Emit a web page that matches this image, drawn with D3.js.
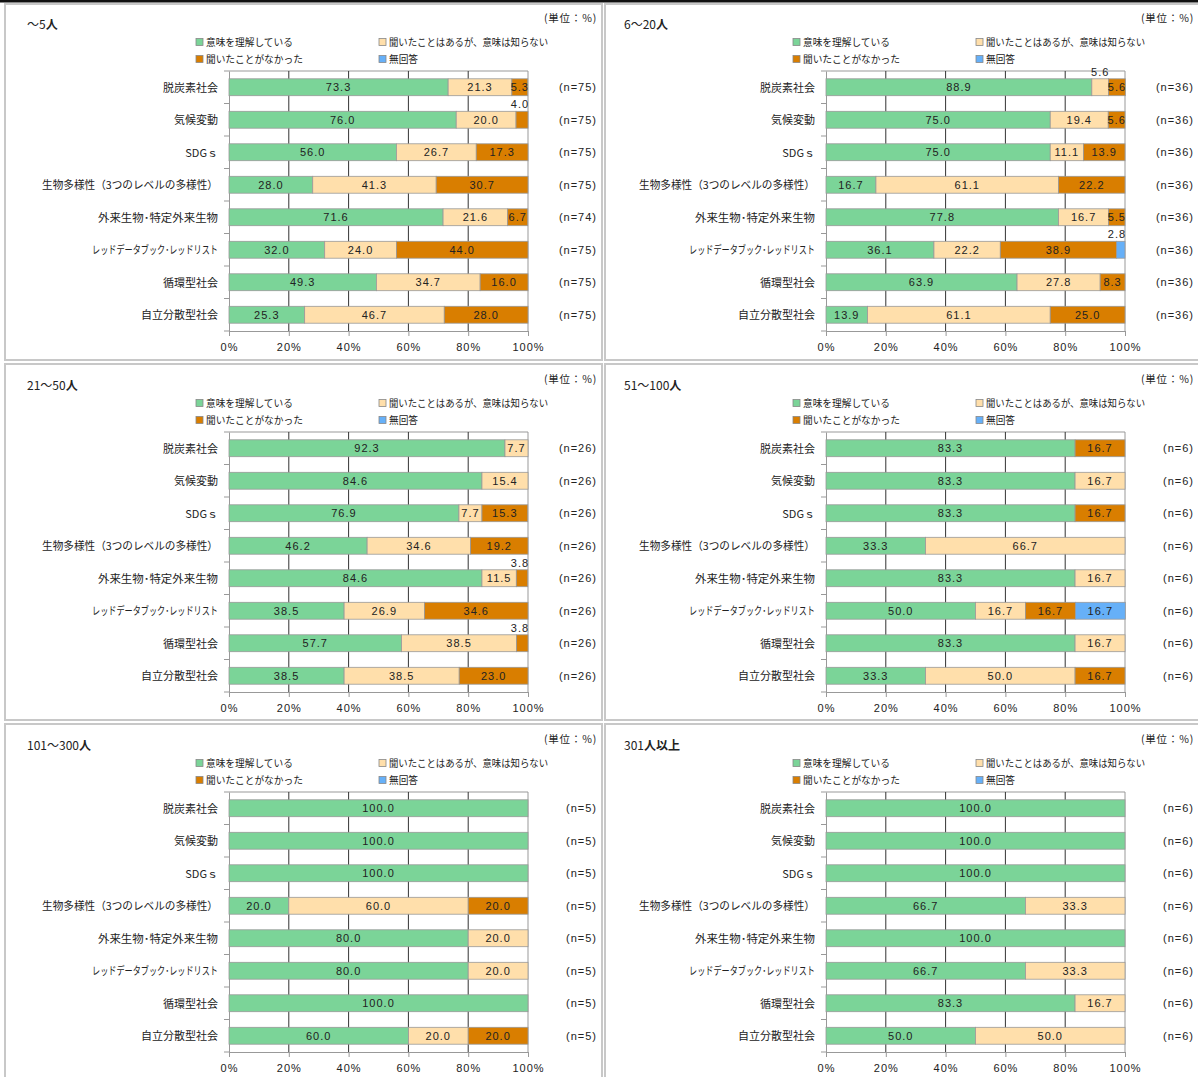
<!DOCTYPE html>
<html>
<head>
<meta charset="utf-8">
<script src="https://cdn.jsdelivr.net/npm/d3@7/dist/d3.min.js"></script>
<style>
  body { margin: 0; background: #fff; }
  text { font-family: "Noto Sans CJK JP", "Noto Sans", sans-serif; fill: #222; }
  .num { font-family: "Liberation Sans", Arial, sans-serif; letter-spacing: 1px; }
</style>
</head>
<body>
<script>
const W = 1198
const H = 1077

const panelTitles = ['～5人', '6～20人', '21～50人', '51～100人', '101～300人', '301人以上']

const categories = [
    '脱炭素社会',
    '気候変動',
    'SDGｓ',
    '生物多様性（3つのレベルの多様性）',
    '外来生物･特定外来生物',
    'レッドデータブック･レッドリスト',
    '循環型社会',
    '自立分散型社会'
]

const seriesNames = ['意味を理解している', '聞いたことはあるが、意味は知らない', '聞いたことがなかった', '無回答']

// one row per panel, one value per category
const understood = [
    [73.3, 76.0, 56.0, 28.0, 71.6, 32.0, 49.3, 25.3],
    [88.9, 75.0, 75.0, 16.7, 77.8, 36.1, 63.9, 13.9],
    [92.3, 84.6, 76.9, 46.2, 84.6, 38.5, 57.7, 38.5],
    [83.3, 83.3, 83.3, 33.3, 83.3, 50.0, 83.3, 33.3],
    [100.0, 100.0, 100.0, 20.0, 80.0, 80.0, 100.0, 60.0],
    [100.0, 100.0, 100.0, 66.7, 100.0, 66.7, 83.3, 50.0]
]
const heardOnly = [
    [21.3, 20.0, 26.7, 41.3, 21.6, 24.0, 34.7, 46.7],
    [5.6, 19.4, 11.1, 61.1, 16.7, 22.2, 27.8, 61.1],
    [7.7, 15.4, 7.7, 34.6, 11.5, 26.9, 38.5, 38.5],
    [0, 16.7, 0, 66.7, 16.7, 16.7, 16.7, 50.0],
    [0, 0, 0, 60.0, 20.0, 20.0, 0, 20.0],
    [0, 0, 0, 33.3, 0, 33.3, 16.7, 50.0]
]
const neverHeard = [
    [5.3, 4.0, 17.3, 30.7, 6.7, 44.0, 16.0, 28.0],
    [5.6, 5.6, 13.9, 22.2, 5.5, 38.9, 8.3, 25.0],
    [0, 0, 15.3, 19.2, 3.8, 34.6, 3.8, 23.0],
    [16.7, 0, 16.7, 0, 0, 16.7, 0, 16.7],
    [0, 0, 0, 20.0, 0, 0, 0, 20.0],
    [0, 0, 0, 0, 0, 0, 0, 0]
]
const noAnswer = [
    [0, 0, 0, 0, 0, 0, 0, 0],
    [0, 0, 0, 0, 0, 2.8, 0, 0],
    [0, 0, 0, 0, 0, 0, 0, 0],
    [0, 0, 0, 0, 0, 16.7, 0, 0],
    [0, 0, 0, 0, 0, 0, 0, 0],
    [0, 0, 0, 0, 0, 0, 0, 0]
]
const sampleSizes = [
    [75, 75, 75, 75, 74, 75, 75, 75],
    [36, 36, 36, 36, 36, 36, 36, 36],
    [26, 26, 26, 26, 26, 26, 26, 26],
    [6, 6, 6, 6, 6, 6, 6, 6],
    [5, 5, 5, 5, 5, 5, 5, 5],
    [6, 6, 6, 6, 6, 6, 6, 6]
]
const xTicks = [0, 20, 40, 60, 80, 100]

const colors = ['#7bd498', '#ffdfab', '#d97e00', '#66b0f8']

const svg = d3.select('body').append('svg')
    .attr('width', W)
    .attr('height', H)

svg.append('rect').attr('width', W).attr('height', H).attr('fill', '#fff')

// panel frames
const panelX = [0, 597]
const panelY = [0, 361, 721]
const frameX = [[5, 602], [605, 1199]]
const frameY = [[4, 360], [364, 720], [724, 1080]]
frameY.forEach(fy => frameX.forEach(fx => {
    svg.append('rect')
        .attr('x', fx[0]).attr('y', fy[0])
        .attr('width', fx[1] - fx[0]).attr('height', fy[1] - fy[0])
        .attr('fill', 'none').attr('stroke', '#c8c8c8').attr('stroke-width', 2)
}))
svg.append('rect').attr('x', 0).attr('y', 0).attr('width', W).attr('height', 2.5).attr('fill', '#111')

const plotLeft = 229
const plotRight = 528
const plotTop = 71
const plotBottom = 331

// long labels squeezed to the width they take in the original
const labelWidths = { '生物多様性（3つのレベルの多様性）': 176, 'レッドデータブック･レッドリスト': 126, '外来生物･特定外来生物': 120 }

const xScale = d3.scaleLinear().domain([0, 100]).range([plotLeft, plotRight])
const yScale = d3.scaleBand().domain(categories).range([plotTop, plotBottom]).paddingInner(0.48).paddingOuter(0.24)

function drawPanel (p) {
    const g = svg.append('g')
        .attr('transform', `translate(${panelX[p % 2]},${panelY[Math.floor(p / 2)]})`)

    // title: kanji in bold
    const title = g.append('text').attr('x', 27).attr('y', 29).attr('font-size', 12)
    panelTitles[p].split(/([\u4e00-\u9fff]+)/).filter(s => s.length).forEach(s => {
        title.append('tspan')
            .attr('font-weight', /[\u4e00-\u9fff]/.test(s) ? 'bold' : 'normal')
            .text(s)
    })

    g.append('text').attr('x', 597).attr('y', 22).attr('text-anchor', 'end')
        .attr('font-size', 10.5).style('letter-spacing', '0.8px').text('(単位：%)')

    // legend
    const legendPos = [[199.5, 42], [382.5, 42], [199.5, 59], [382.5, 59]]
    seriesNames.forEach((name, i) => {
        g.append('rect')
            .attr('x', legendPos[i][0] - 3.5).attr('y', legendPos[i][1] - 3.5)
            .attr('width', 7).attr('height', 7)
            .attr('fill', colors[i]).attr('stroke', '#888').attr('stroke-width', 0.8)
        const t = g.append('text')
            .attr('x', legendPos[i][0] + 6.5).attr('y', legendPos[i][1] + 3.6)
            .attr('font-size', 9.7).text(name)
        if (i === 1) t.attr('textLength', 159).attr('lengthAdjust', 'spacingAndGlyphs')
    })

    // grid
    g.append('line')
        .attr('x1', plotLeft).attr('x2', plotRight).attr('y1', plotTop).attr('y2', plotTop)
        .attr('stroke', '#999')
    g.selectAll('.grid').data(xTicks.slice(1)).enter().append('line')
        .attr('x1', d => xScale(d)).attr('x2', d => xScale(d))
        .attr('y1', plotTop).attr('y2', plotBottom)
        .attr('stroke', d => d === 100 ? '#999' : '#333')

    // y axis with ticks between categories
    const yAxisGen = d3.axisLeft(yScale).tickSize(0).tickPadding(11).tickFormat(d => d)
    const yAxis = g.append('g').attr('transform', `translate(${plotLeft},0)`).call(yAxisGen)
    yAxis.select('.domain').attr('stroke', '#999')
    yAxis.selectAll('text').attr('font-size', 11).attr('fill', '#222').attr('dy', '0.4em')
        .style('font-family', '"Noto Sans CJK JP", sans-serif')
        .each(function (d) {
            if (labelWidths[d]) {
                d3.select(this).attr('textLength', labelWidths[d]).attr('lengthAdjust', 'spacingAndGlyphs')
            }
        })
    const step = yScale.step()
    const bounds = d3.range(categories.length + 1).map(i => plotTop + i * step)
    g.selectAll('.ytick').data(bounds).enter().append('line')
        .attr('x1', plotLeft - 5).attr('x2', plotLeft)
        .attr('y1', d => d).attr('y2', d => d)
        .attr('stroke', '#999')

    // x axis
    const xAxisGen = d3.axisBottom(xScale).tickValues(xTicks).tickSize(5).tickPadding(7)
        .tickFormat(d => d + '%')
    const xAxis = g.append('g').attr('transform', `translate(0,${plotBottom})`).call(xAxisGen)
    xAxis.select('.domain').attr('stroke', '#999')
    xAxis.selectAll('.tick line').attr('stroke', '#999')
    xAxis.selectAll('text').attr('class', 'num').attr('font-size', 11).attr('fill', '#222')

    // stacked bars
    const series = [understood[p], heardOnly[p], neverHeard[p], noAnswer[p]]
    categories.forEach((cat, ci) => {
        let acc = 0
        const vals = series.map(s => s[ci])
        vals.forEach((v, si) => {
            const start = acc
            acc += v
            if (v <= 0) return
            const y0 = yScale(cat)
            const bh = yScale.bandwidth()
            g.append('rect')
                .attr('x', xScale(start)).attr('y', y0)
                .attr('width', xScale(start + v) - xScale(start)).attr('height', bh)
                .attr('fill', colors[si]).attr('stroke', '#999').attr('stroke-width', 0.8)

            const rest = vals.slice(si + 1).filter(x => x > 0)
            const above = v < 5 || (v < 6 && rest.length > 0 && rest[0] < 6)
            let cx = xScale(start + v / 2)
            const lbl = g.append('text').attr('class', 'num').attr('font-size', 11)
                .attr('text-anchor', 'middle').text(v.toFixed(1))
            if (above) {
                cx = Math.min(cx, plotRight - 8)
                lbl.attr('x', cx).attr('y', y0 - 3)
            } else {
                lbl.attr('x', cx).attr('y', y0 + bh / 2 + 4)
            }
        })
        g.append('text').attr('class', 'num')
            .attr('x', 597).attr('y', yScale(cat) + yScale.bandwidth() / 2 + 4)
            .attr('text-anchor', 'end').attr('font-size', 11)
            .text(`(n=${sampleSizes[p][ci]})`)
    })
}

d3.range(6).forEach(drawPanel)
</script>
</body>
</html>
